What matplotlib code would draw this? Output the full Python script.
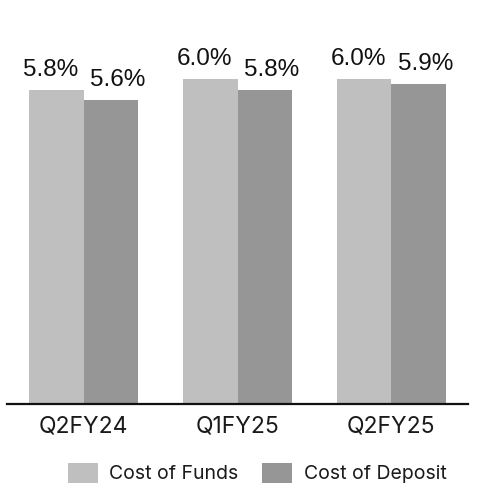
import matplotlib
matplotlib.use("Agg")
import matplotlib.pyplot as plt
import numpy as np

periods = ["Q2FY24", "Q1FY25", "Q2FY25"]
cost_of_funds = [5.8, 6.0, 6.0]
cost_of_deposit = [5.6, 5.8, 5.9]
series_names = ["Cost of Funds", "Cost of Deposit"]
colors = ["#BFBFBF", "#969696"]

plt.rcParams["font.family"] = ["Liberation Sans", "DejaVu Sans"]

W, H = 487, 491
fig = plt.figure(figsize=(W / 100, H / 100), dpi=100)
ax = fig.add_axes([7 / W, 87 / H, 461 / W, 374 / H])

x = np.arange(len(periods))
bw = 0.355
b1 = ax.bar(x - bw / 2, cost_of_funds, bw, color=colors[0], label=series_names[0])
b2 = ax.bar(x + bw / 2, cost_of_deposit, bw, color=colors[1], label=series_names[1])

for rect, v in zip(b1, cost_of_funds):
    ax.annotate(f"{v:.1f}%", (rect.get_x() + rect.get_width() / 2, v),
                xytext=(-4, 6.5), textcoords="offset points",
                ha="center", va="bottom", fontsize=17.5, color="#111111")
for rect, v in zip(b2, cost_of_deposit):
    ax.annotate(f"{v:.1f}%", (rect.get_x() + rect.get_width() / 2, v),
                xytext=(5, 6.5), textcoords="offset points",
                ha="center", va="bottom", fontsize=17.5, color="#111111")

ax.set_xlim(-0.5, 2.5)
ax.set_ylim(0, 6.9)
ax.set_xticks(x)
ax.set_xticklabels(periods, fontsize=16.5, color="#1a1a1a", family=["Inter", "DejaVu Sans"])
ax.tick_params(axis="x", length=0, pad=8)
ax.set_yticks([])
for s in ["top", "right", "left"]:
    ax.spines[s].set_visible(False)
ax.spines["bottom"].set_linewidth(1.6)
ax.spines["bottom"].set_color("#111111")

fig.legend(loc="center", bbox_to_anchor=(257 / W, 1 - 473 / H), ncol=2,
           frameon=False, handlelength=1.55, handleheight=1.2,
           handletextpad=0.6, columnspacing=1.2, borderpad=0,
           labelcolor="#1a1a1a",
           prop={"family": ["Inter", "DejaVu Sans"], "size": 14})

fig.savefig("out.png", dpi=100)
